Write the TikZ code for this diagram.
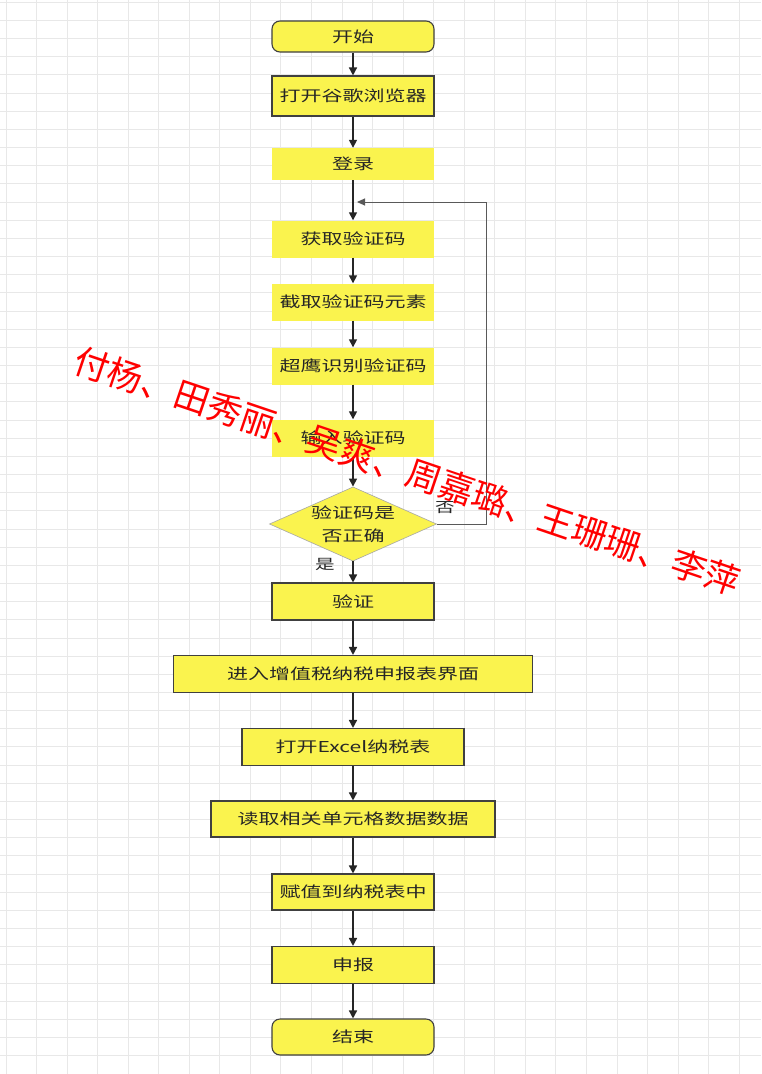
\documentclass[tikz,border=0pt]{standalone}
\usepackage{fontspec}
\usepackage{tikz}
\usetikzlibrary{shapes.geometric,arrows.meta}
\newfontfamily\flowfont[FakeStretch=1.4]{Noto Sans CJK SC}
\newfontfamily\markfont{Noto Sans CJK SC}
\definecolor{flowyellow}{RGB}{250,243,78}
\definecolor{boxline}{RGB}{64,64,64}
\definecolor{gridline}{RGB}{232,232,232}

\begin{document}
\begin{tikzpicture}[x=1pt, y=-1pt,
  stepbase/.style={rectangle, fill=flowyellow, minimum width=162pt, minimum height=37pt,
    inner sep=2pt, text=black!85, font=\flowfont\fontsize{15pt}{18pt}\selectfont},
  procbox/.style={stepbase, draw=boxline, line width=1.1pt},
  plainbox/.style={stepbase},
  termbox/.style={stepbase, draw=boxline, line width=1.1pt, rounded corners=8pt},
  decision/.style={diamond, fill=flowyellow, draw=gray!70, line width=0.6pt, aspect=2.25,
    minimum width=162pt, minimum height=72pt, inner sep=0pt, align=center,
    text=black!85, font=\flowfont\fontsize{15pt}{23pt}\selectfont},
  flow/.style={-{Triangle[width=8pt,length=8pt]}, line width=1.5pt, black!85},
  loopline/.style={-{Triangle[width=7pt,length=8pt]}, line width=1pt, black!65},
  branch/.style={text=black!85, font=\flowfont\fontsize{14pt}{16pt}\selectfont}]
\useasboundingbox (0,0) rectangle (761,1074);
\fill[white] (0,0) rectangle (761,1074);

% Background grid
\foreach \k in {0,...,24}
  \draw[gridline, line width=1pt] ({6+30.55*\k},0) -- ({6+30.55*\k},1074);
\foreach \k in {0,...,58}
  \draw[gridline, line width=1pt] (0,{2.3+18.163*\k}) -- (761,{2.3+18.163*\k});

% Steps
\node[termbox, minimum height=31pt] (start) at (353,36.5) {开始};
\node[procbox, minimum height=40pt] (browser) at (353,96) {打开谷歌浏览器};
\node[plainbox, minimum height=32pt] (login) at (353,164) {登录};
\node[plainbox] (captcha) at (353,239) {获取验证码};
\node[plainbox] (crop) at (353,302) {截取验证码元素};
\node[plainbox] (ocr) at (353,366) {超鹰识别验证码};
\node[plainbox] (input) at (353,438) {输入验证码};
\node[decision] (check) at (353,524) {验证码是\\否正确};
\node[procbox] (verify) at (353,601.5) {验证};
\node[procbox, minimum width=359pt] (enter) at (353,674) {进入增值税纳税申报表界面};
\node[procbox, minimum width=222pt] (excel) at (353,747) {打开Excel纳税表};
\node[procbox, minimum width=284pt, minimum height=36pt] (readcell) at (353,819) {读取相关单元格数据数据};
\node[procbox, minimum height=36pt] (assign) at (353,892) {赋值到纳税表中};
\node[procbox] (declare) at (353,965) {申报};
\node[termbox, minimum height=36pt] (finish) at (353,1037) {结束};

% Main flow
\draw[flow] (start) -- (browser);
\draw[flow] (browser) -- (login);
\draw[flow] (login) -- (captcha);
\draw[flow] (captcha) -- (crop);
\draw[flow] (crop) -- (ocr);
\draw[flow] (ocr) -- (input);
\draw[flow] (input) -- (check);
\draw[flow] (check) -- (verify);
\draw[flow] (verify) -- (enter);
\draw[flow] (enter) -- (excel);
\draw[flow] (excel) -- (readcell);
\draw[flow] (readcell) -- (assign);
\draw[flow] (assign) -- (declare);
\draw[flow] (declare) -- (finish);

% Retry loop
\coordinate (loopend) at (357,202);
\draw[loopline] (check.east) -- (486,524) -- (486,202) -- (loopend);
\node[branch] (no) at (445,508) {否};
\node[branch] (yes) at (325,564) {是};

% Watermark
\node[red, rotate=-18.7, inner sep=0pt, font=\markfont\fontsize{35pt}{40pt}\selectfont] (names)
  at (407.5,471) {付杨、田秀丽、吴爽、周嘉璐、王珊珊、李萍};
\end{tikzpicture}
\end{document}
